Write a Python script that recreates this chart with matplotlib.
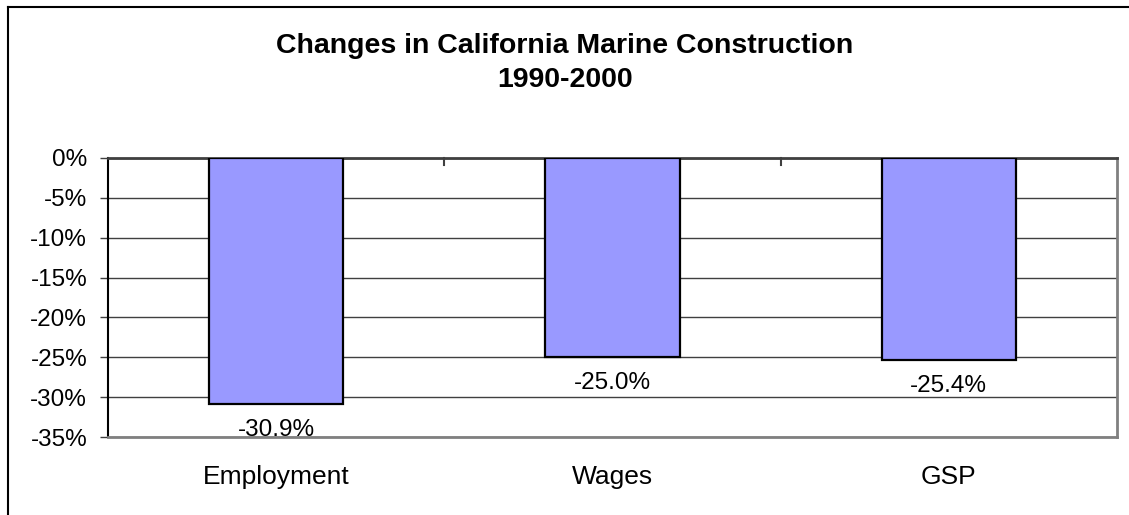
import matplotlib
matplotlib.use("Agg")
import matplotlib.pyplot as plt
from matplotlib.lines import Line2D
from matplotlib.ticker import FuncFormatter, MultipleLocator

plt.rcParams['font.family'] = ['Liberation Sans', 'DejaVu Sans']

categories = ["Employment", "Wages", "GSP"]
values = [-30.9, -25.0, -25.4]
value_labels = ["-30.9%", "-25.0%", "-25.4%"]
title_text = "Changes in California Marine Construction\n1990-2000"

W, H = 1129, 515
fig = plt.figure(figsize=(W / 100, H / 100), dpi=100)
fig.patch.set_facecolor("white")

# outer frame (left and top edges visible)
fig.add_artist(Line2D([8 / W, 8 / W], [0, 1 - 7 / H], transform=fig.transFigure, color="black", lw=1.5))
fig.add_artist(Line2D([8 / W, 1], [1 - 7 / H, 1 - 7 / H], transform=fig.transFigure, color="black", lw=1.5))

ax_l, ax_r, ax_t, ax_b = 108, 1117, 158, 437
ax = fig.add_axes([ax_l / W, 1 - ax_b / H, (ax_r - ax_l) / W, (ax_b - ax_t) / H])

x = list(range(len(categories)))
ax.bar(x, values, width=0.4, color="#9999FF", edgecolor="black", linewidth=1.6, zorder=3)

ax.set_xlim(-0.5, len(categories) - 0.5)
ax.set_ylim(-35, 0)
ax.yaxis.set_major_locator(MultipleLocator(5))
ax.yaxis.set_major_formatter(FuncFormatter(lambda v, p: f"{v:.0f}%" if v != 0 else "0%"))
ax.grid(axis="y", color="#404040", lw=1, zorder=1)
ax.set_axisbelow(True)

ax.set_xticks(x)
ax.set_xticklabels(categories, fontsize=19)
ax.tick_params(axis="x", length=0, pad=20)
ax.tick_params(axis="y", labelsize=17.5, length=6, width=1, direction="out", pad=9, color="#404040")

# category separator ticks along the top (the zero line)
for b in [0.5, 1.5]:
    ax.plot([b, b], [0, -0.9], color="#404040", lw=1.5, zorder=4, clip_on=False)

ax.spines["left"].set_color("black")
ax.spines["left"].set_linewidth(1.5)
ax.spines["top"].set_color("#404040")
ax.spines["top"].set_linewidth(2)
ax.spines["right"].set_color("#808080")
ax.spines["right"].set_linewidth(2)
ax.spines["bottom"].set_color("#808080")
ax.spines["bottom"].set_linewidth(2)

for xi, v, lab in zip(x, values, value_labels):
    ax.annotate(lab, (xi, v), xytext=(0, -18.5), textcoords="offset points",
                ha="center", va="center", fontsize=17.5)

fig.text(565 / W, 1 - 63 / H, title_text, ha="center", va="center",
         fontsize=20.5, fontweight="bold", linespacing=1.38)

fig.savefig("out.png", dpi=100, facecolor="white")
